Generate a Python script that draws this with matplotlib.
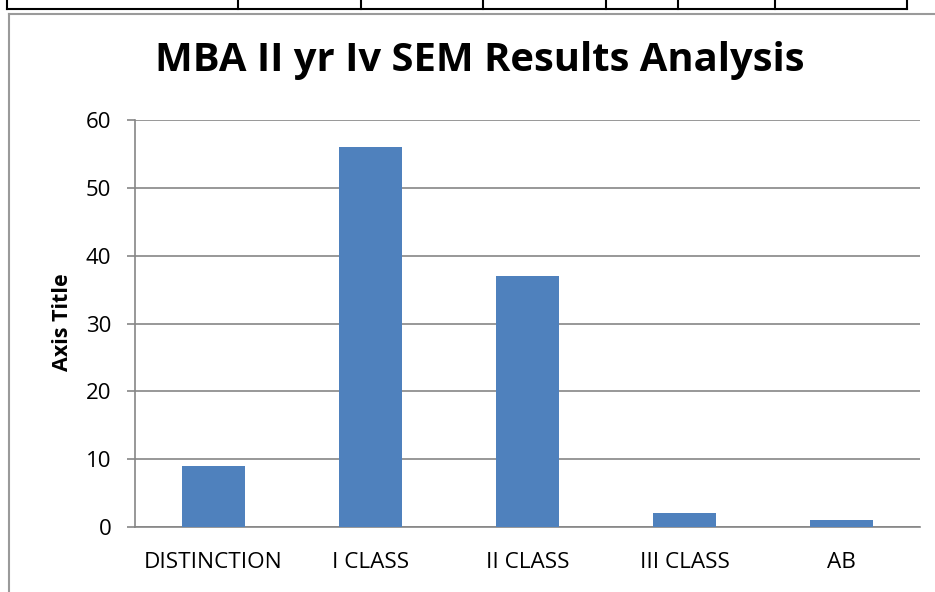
import matplotlib
matplotlib.use("Agg")
import matplotlib.pyplot as plt
from matplotlib.lines import Line2D

categories = ["DISTINCTION", "I CLASS", "II CLASS", "III CLASS", "AB"]
values = [9, 56, 37, 2, 1]
yticks = [0, 10, 20, 30, 40, 50, 60]
title = "MBA II yr Iv SEM Results Analysis"
ylabel = "Axis Title"

W, H = 935, 592
fig = plt.figure(figsize=(W / 100, H / 100), dpi=100)
fig.patch.set_facecolor("white")

def fx(px):
    return px / W

def fy(py):
    return 1 - py / H

# table lines on top (remnants of a spreadsheet)
fig.add_artist(Line2D([fx(7), fx(907)], [fy(9), fy(9)], color="black", lw=1.5))
for xv in [7, 238, 361, 483, 606, 678, 775, 907]:
    fig.add_artist(Line2D([fx(xv), fx(xv)], [fy(0), fy(9)], color="black", lw=1.5))

# chart border
fig.add_artist(Line2D([fx(9), fx(935)], [fy(14), fy(14)], color="#9a9a9a", lw=1.5))
fig.add_artist(Line2D([fx(9), fx(9)], [fy(14), fy(592)], color="#9a9a9a", lw=1.5))

ax = fig.add_axes([fx(135), fy(527), fx(920) - fx(135), fy(120) - fy(527)])
x = list(range(len(categories)))
ax.bar(x, values, width=0.4, color="#4F81BD", zorder=3)
ax.set_xlim(-0.5, len(categories) - 0.5)
ax.set_ylim(0, 60)
ax.set_yticks(yticks)
ax.set_xticks(x)
ax.set_xticklabels(categories)
ax.yaxis.grid(True, color="#868686", lw=1.2, zorder=0)
ax.set_axisbelow(True)
for s in ["top", "right"]:
    ax.spines[s].set_visible(False)
for s in ["left", "bottom"]:
    ax.spines[s].set_color("#868686")
    ax.spines[s].set_linewidth(1.2)
ax.tick_params(axis="y", length=6, width=1.2, color="#868686", labelsize=16, pad=11)
ax.tick_params(axis="x", length=0, labelsize=16.2, pad=18)
for lab in ax.get_xticklabels() + ax.get_yticklabels():
    lab.set_fontfamily("Open Sans")

fig.text(fx(480), fy(60), title, ha="center", va="center", fontsize=28.8,
         fontweight="bold", family="Open Sans")
fig.text(fx(62), fy(322), ylabel, ha="center", va="center", rotation=90,
         fontsize=15.5, fontweight="bold", family="Open Sans")

fig.savefig("out.png", dpi=100)
